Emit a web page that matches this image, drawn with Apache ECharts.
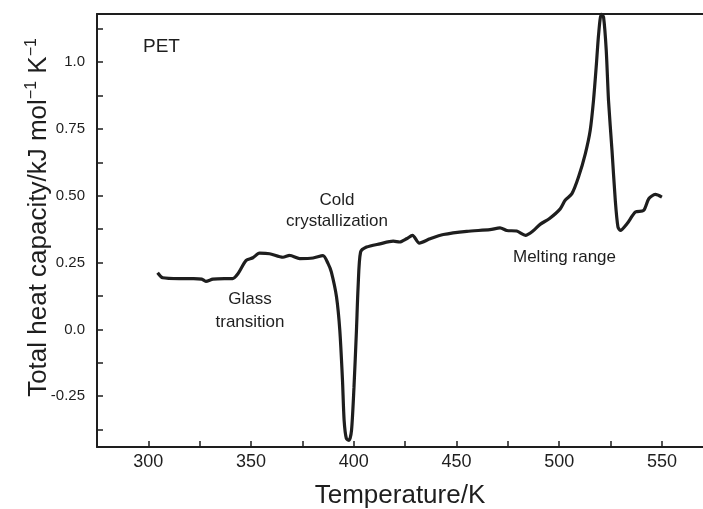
<!DOCTYPE html>
<html>
<head>
<meta charset="utf-8">
<script src="https://cdn.jsdelivr.net/npm/echarts@6/dist/echarts.min.js"></script>
<style>
  html, body { margin: 0; padding: 0; background: #fff; }
  #chart { width: 703px; height: 509px; }
</style>
</head>
<body>
<div id="chart"></div>
<script>
// temperature (K) and total heat capacity (kJ/mol/K)
const temperature = [
  304.5, 307, 315, 322, 326, 328, 331.4, 337, 341, 343.6,
  347.6, 350.9, 354.1, 359, 365.5, 368.8, 373.7, 380.2, 385, 387.5,
  389.1, 391.6, 393.2, 394.5, 395.3, 396.4, 397.7, 398.9, 400.1, 401.3,
  402.1, 403.3, 406.2, 412.7, 419.2, 422.4, 425.7, 428.6, 431.9, 437.1,
  443.6, 455, 466.3, 471.2, 474.5, 479.3, 483.6, 487.5, 490.7, 495.3,
  500.5, 502.9, 506.2, 509.4, 512.7, 515.1, 516.7, 518, 519.2, 520.5,
  521.6, 522.9, 524, 525.7, 527.3, 528.6, 529.8, 533, 537.1, 541.1,
  543.6, 546.8, 550
];
const heatCapacity = [
  0.212, 0.193, 0.19, 0.19, 0.188, 0.18, 0.188, 0.19, 0.19, 0.208,
  0.258, 0.268, 0.285, 0.283, 0.27, 0.277, 0.265, 0.267, 0.276, 0.246,
  0.214, 0.121, -0.004, -0.19, -0.34, -0.409, -0.415, -0.378, -0.216, -0.004,
  0.158, 0.289, 0.308, 0.32, 0.33, 0.327, 0.339, 0.352, 0.323, 0.339,
  0.355, 0.367, 0.373, 0.38, 0.37, 0.368, 0.352, 0.37, 0.393, 0.415,
  0.451, 0.483, 0.508, 0.57, 0.657, 0.745, 0.857, 0.981, 1.106, 1.18,
  1.168, 1.044, 0.857, 0.67, 0.483, 0.383, 0.37, 0.395, 0.439, 0.445,
  0.489, 0.505, 0.495
];
const xLabelValues = [300, 350, 400, 450, 500, 550];
const xTickValues = [300, 325, 350, 375, 400, 425, 450, 475, 500, 525, 550];
const yLabelValues = [-0.25, 0, 0.25, 0.5, 0.75, 1.0];
const yLabelText = { "-0.25": "-0.25", "0": "0.0", "0.25": "0.25", "0.5": "0.50", "0.75": "0.75", "1": "1.0" };
const yTickValues = [-0.375, -0.25, -0.125, 0, 0.125, 0.25, 0.375, 0.5, 0.625, 0.75, 0.875, 1.0, 1.125];

const FONT = "Liberation Sans";
const INK = "#1e1e1e";

let myChart = echarts.init(document.getElementById("chart"));
let lineOption = {
  onZero: false,
  lineStyle: { color: INK, width: 2 }
};
myChart.setOption({
  animation: false,
  grid: { left: 97, top: 14, right: 0, bottom: 62, outerBoundsMode: "none" },
  xAxis: [
    {
      type: "value",
      min: 275,
      max: 570,
      name: "Temperature/K",
      nameLocation: "middle",
      nameGap: 36,
      nameMoveOverlap: false,
      nameTextStyle: { fontFamily: FONT, fontSize: 26, color: INK },
      axisLine: lineOption,
      splitLine: { show: false },
      axisTick: {
        inside: true,
        length: 6,
        customValues: xTickValues,
        lineStyle: { color: INK, width: 1.5 }
      },
      axisLabel: {
        customValues: xLabelValues,
        margin: 6,
        fontFamily: FONT,
        fontSize: 18,
        color: INK
      }
    },
    {
      type: "value",
      position: "top",
      min: 275,
      max: 570,
      axisLine: lineOption,
      axisTick: { show: false },
      axisLabel: { show: false },
      splitLine: { show: false }
    }
  ],
  yAxis: [
    {
      type: "value",
      min: -0.44,
      max: 1.18,
      name: "Total heat capacity/kJ mol{sup|−1} K{sup|−1}",
      nameLocation: "middle",
      nameGap: 43,
      nameMoveOverlap: false,
      nameTextStyle: {
        fontFamily: FONT,
        fontSize: 26,
        color: INK,
        lineHeight: 30,
        padding: [0, 0, 0, 26],
        rich: {
          sup: { fontFamily: FONT, fontSize: 16, color: INK, verticalAlign: "top", lineHeight: 30 }
        }
      },
      axisLine: Object.assign({ show: true }, lineOption),
      splitLine: { show: false },
      axisTick: {
        inside: true,
        length: 6,
        customValues: yTickValues,
        lineStyle: { color: INK, width: 1.5 }
      },
      axisLabel: {
        customValues: yLabelValues,
        margin: 12,
        fontFamily: FONT,
        fontSize: 15,
        color: INK,
        formatter: function (v) {
          return yLabelText[String(v)] !== undefined ? yLabelText[String(v)] : String(v);
        }
      }
    }
  ],
  graphic: [
    { type: "text", x: 143, y: 37, style: { text: "PET", font: "19px " + FONT, fill: INK } },
    { type: "text", x: 337, y: 190, style: { text: "Cold\ncrystallization", font: "17px " + FONT, fill: INK, align: "center", lineHeight: 21 } },
    { type: "text", x: 250, y: 288, style: { text: "Glass\ntransition", font: "17px " + FONT, fill: INK, align: "center", lineHeight: 23 } },
    { type: "text", x: 513, y: 249, style: { text: "Melting range", font: "17px " + FONT, fill: INK } }
  ],
  series: [
    {
      type: "line",
      data: temperature.map(function (t, i) { return [t, heatCapacity[i]]; }),
      showSymbol: false,
      smooth: 0.25,
      lineStyle: { color: INK, width: 3.2 }
    }
  ]
});
</script>
</body>
</html>
